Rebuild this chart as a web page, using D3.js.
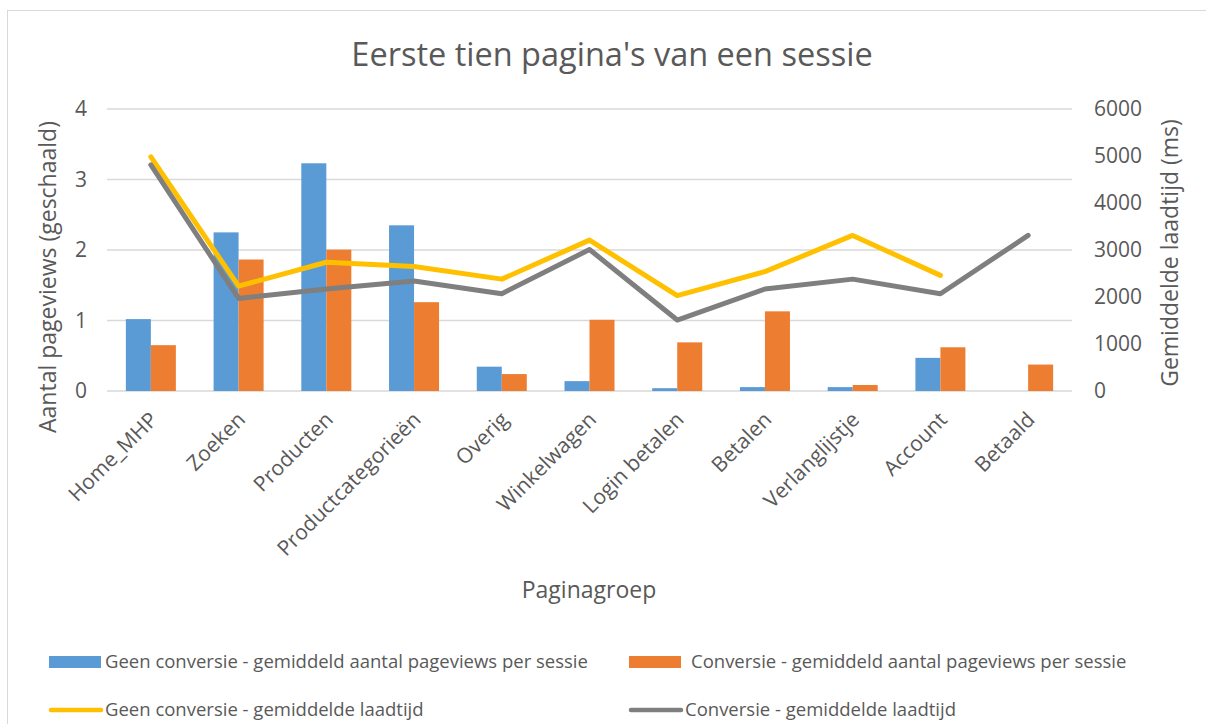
<!DOCTYPE html>
<html>
<head>
<meta charset="utf-8">
<script src="https://cdn.jsdelivr.net/npm/d3@7"></script>
<style>
  html, body { margin: 0; padding: 0; background: #fff; }
  svg text { font-family: 'Open Sans', 'Noto Sans', sans-serif; fill: #595959; }
</style>
</head>
<body>
<svg id="chart" width="1206" height="724"></svg>
<script>
// Eerste tien pagina's van een sessie — combo chart (bars + lines on 2nd axis)

const categories = ['Home_MHP', 'Zoeken', 'Producten', 'Productcategorieën', 'Overig',
  'Winkelwagen', 'Login betalen', 'Betalen', 'Verlanglijstje', 'Account', 'Betaald'];

// aantal pageviews per sessie (geschaald)
const geenConvPageviews = [1.02, 2.25, 3.23, 2.35, 0.345, 0.14, 0.04, 0.055, 0.055, 0.47, null];
const convPageviews     = [0.65, 1.865, 2.005, 1.26, 0.24, 1.01, 0.69, 1.13, 0.085, 0.62, 0.375];

// gemiddelde laadtijd (ms)
const geenConvLaadtijd = [4980, 2230, 2740, 2650, 2380, 3210, 2030, 2540, 3310, 2460, null];
const convLaadtijd     = [4810, 1970, 2170, 2340, 2070, 3010, 1510, 2170, 2380, 2070, 3310];

const leftTicks  = [0, 1, 2, 3, 4];
const rightTicks = [0, 1000, 2000, 3000, 4000, 5000, 6000];

const COLORS = {
  geenBar:  '#5B9BD5',
  convBar:  '#ED7D31',
  geenLine: '#FFC000',
  convLine: '#7F7F7F',
  grid:     '#D9D9D9',
};

const svg = d3.select('#chart');

// chart frame (only left/top visible in the crop)
svg.append('rect')
  .attr('x', 7.5).attr('y', 10.5)
  .attr('width', 1300).attr('height', 800)
  .attr('fill', '#fff')
  .attr('stroke', COLORS.grid);

const plot = { left: 107, right: 1072, top: 109, bottom: 391 };

const x = d3.scaleBand()
  .domain(categories)
  .range([plot.left, plot.right])
  .padding(0);

const yLeft = d3.scaleLinear().domain([0, 4]).range([plot.bottom, plot.top]);
const yRight = d3.scaleLinear().domain([0, 6000]).range([plot.bottom, plot.top]);

const barW = x.bandwidth() * 0.285;
const center = c => x(c) + x.bandwidth() / 2;

// Gridlines
svg.append('g')
  .selectAll('line')
  .data(leftTicks)
  .enter()
  .append('line')
  .attr('x1', plot.left).attr('x2', plot.right)
  .attr('y1', d => yLeft(d)).attr('y2', d => yLeft(d))
  .attr('stroke', COLORS.grid)
  .attr('stroke-width', 1.3);

// Left axis tick labels
svg.append('g')
  .selectAll('text')
  .data(leftTicks)
  .enter()
  .append('text')
  .attr('x', 87)
  .attr('y', d => yLeft(d))
  .attr('dy', '0.35em')
  .attr('text-anchor', 'end')
  .attr('font-size', '21px')
  .text(d => d);

// Right axis tick labels
svg.append('g')
  .selectAll('text')
  .data(rightTicks)
  .enter()
  .append('text')
  .attr('x', 1094)
  .attr('y', d => yRight(d))
  .attr('dy', '0.35em')
  .attr('text-anchor', 'start')
  .attr('font-size', '21px')
  .text(d => d);

// Bars
const barLayer = svg.append('g');
barLayer.selectAll('rect.geen')
  .data(categories.map((c, i) => ({ c, v: geenConvPageviews[i] })).filter(d => d.v != null))
  .enter()
  .append('rect')
  .attr('class', 'geen')
  .attr('x', d => center(d.c) - barW)
  .attr('width', barW)
  .attr('y', d => yLeft(d.v))
  .attr('height', d => yLeft(0) - yLeft(d.v))
  .attr('fill', COLORS.geenBar);

barLayer.selectAll('rect.conv')
  .data(categories.map((c, i) => ({ c, v: convPageviews[i] })).filter(d => d.v != null))
  .enter()
  .append('rect')
  .attr('class', 'conv')
  .attr('x', d => center(d.c))
  .attr('width', barW)
  .attr('y', d => yLeft(d.v))
  .attr('height', d => yLeft(0) - yLeft(d.v))
  .attr('fill', COLORS.convBar);

// Lines (secondary axis)
const line = d3.line()
  .defined(d => d.v != null)
  .x(d => center(d.c))
  .y(d => yRight(d.v));

[[geenConvLaadtijd, COLORS.geenLine], [convLaadtijd, COLORS.convLine]].forEach(([vals, color]) => {
  svg.append('path')
    .datum(categories.map((c, i) => ({ c, v: vals[i] })))
    .attr('d', line)
    .attr('fill', 'none')
    .attr('stroke', color)
    .attr('stroke-width', 5)
    .attr('stroke-linejoin', 'round')
    .attr('stroke-linecap', 'round');
});

// Category labels, rotated
svg.append('g')
  .selectAll('text')
  .data(categories)
  .enter()
  .append('text')
  .attr('text-anchor', 'end')
  .attr('font-size', '21px')
  .attr('transform', d => `translate(${center(d) + 8},${plot.bottom + 30}) rotate(-45)`)
  .text(d => d);

// Title
svg.append('text')
  .attr('x', 612).attr('y', 66)
  .attr('text-anchor', 'middle')
  .attr('font-size', '32.5px')
  .text("Eerste tien pagina's van een sessie");

// Axis titles
svg.append('text')
  .attr('transform', 'translate(56,277) rotate(-90)')
  .attr('text-anchor', 'middle')
  .attr('font-size', '23px')
  .text('Aantal pageviews (geschaald)');

svg.append('text')
  .attr('transform', 'translate(1178,253) rotate(-90)')
  .attr('text-anchor', 'middle')
  .attr('font-size', '23px')
  .text('Gemiddelde laadtijd (ms)');

svg.append('text')
  .attr('x', 589).attr('y', 598)
  .attr('text-anchor', 'middle')
  .attr('font-size', '23px')
  .text('Paginagroep');

// Legend
const legendItems = [
  { label: 'Geen conversie - gemiddeld aantal pageviews per sessie', color: COLORS.geenBar, type: 'bar', x: 49, tx: 105, y: 662 },
  { label: 'Conversie - gemiddeld aantal pageviews per sessie', color: COLORS.convBar, type: 'bar', x: 629, tx: 691, y: 662 },
  { label: 'Geen conversie - gemiddelde laadtijd', color: COLORS.geenLine, type: 'line', x: 49, tx: 105, y: 710 },
  { label: 'Conversie - gemiddelde laadtijd', color: COLORS.convLine, type: 'line', x: 629, tx: 685, y: 710 },
];

const legend = svg.append('g');
legendItems.forEach(it => {
  if (it.type === 'bar') {
    legend.append('rect')
      .attr('x', it.x).attr('y', it.y - 6)
      .attr('width', 52).attr('height', 12)
      .attr('fill', it.color);
  } else {
    legend.append('line')
      .attr('x1', it.x + 2).attr('x2', it.x + 52)
      .attr('y1', it.y).attr('y2', it.y)
      .attr('stroke', it.color)
      .attr('stroke-width', 4.5)
      .attr('stroke-linecap', 'round');
  }
  legend.append('text')
    .attr('x', it.tx).attr('y', it.y)
    .attr('dy', '0.35em')
    .attr('font-size', '18.5px')
    .text(it.label);
});
</script>
</body>
</html>
